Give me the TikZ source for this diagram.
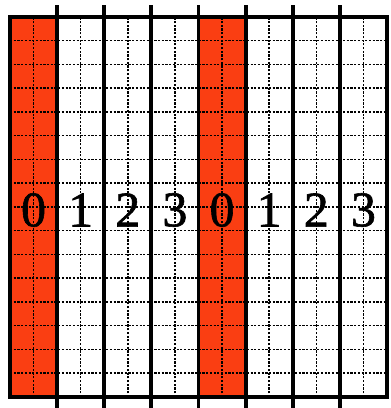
\documentclass[tikz,border=0pt]{standalone}
\usepackage{fontspec}
\setmainfont{Liberation Serif}
\newfontfamily\digitfont[FakeBold=1.2]{Liberation Serif}
\definecolor{stripred}{RGB}{250,62,18}

\begin{document}
\begin{tikzpicture}[x=1pt,y=1pt,line cap=butt,
  thickline/.style={line width=3.8pt},
  gridline/.style={line width=1.5pt,dash pattern=on 2.2pt off 1.5pt},
  digit/.style={font=\digitfont\fontsize{50}{50}\selectfont,inner sep=0pt}]
  \useasboundingbox (0,0) rectangle (391,408);
  % red stripes
  \fill[stripred] (10,11) rectangle (57.125,391);
  \fill[stripred] (198.5,11) rectangle (245.625,391);
  % fine dashed grid
  \foreach \i in {1,...,15}
    \draw[gridline] (10,{11+\i*23.75}) -- (387,{11+\i*23.75});
  \foreach \i in {1,3,...,15}
    \draw[gridline] ({10+\i*23.5625},11) -- ({10+\i*23.5625},391);
  % column walls
  \foreach \i in {1,...,7}
    \draw[thickline] ({10+\i*47.125},0) -- ({10+\i*47.125},403);
  \draw[thickline] (10,11) rectangle (387,391);
  % digits
  \foreach \d [count=\i from 0] in {0,1,2,3,0,1,2,3}
    \node[digit] (n\i) at ({33.56+\i*47.125},198) {\d};
\end{tikzpicture}
\end{document}
